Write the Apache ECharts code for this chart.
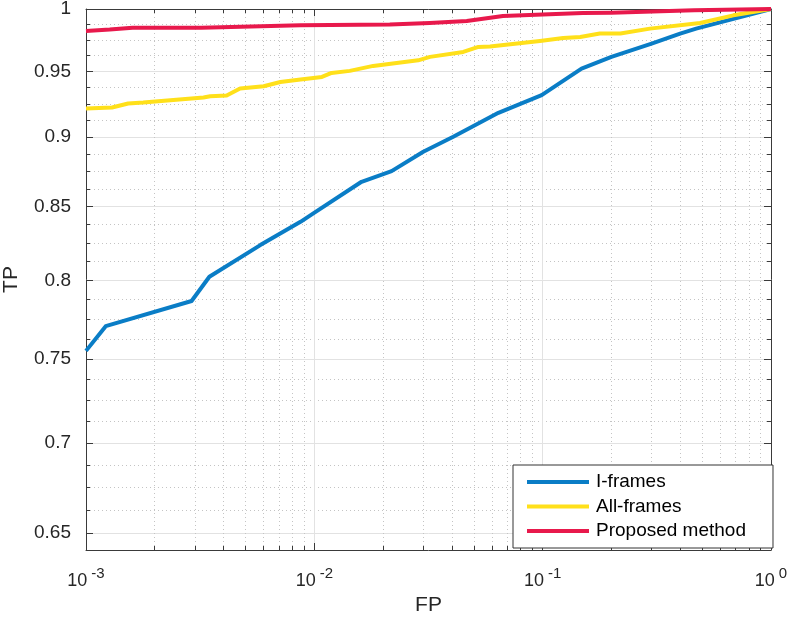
<!DOCTYPE html>
<html><head><meta charset="utf-8">
<script src="https://cdn.jsdelivr.net/npm/echarts@6/dist/echarts.min.js"></script>
<style>html,body{margin:0;padding:0;background:#fff}#c{width:790px;height:617px}</style>
</head><body><div id="c"></div>
<script>
// ---- data ----
const seriesNames = ['I-frames', 'All-frames', 'Proposed method'];

const iFramesFP = [0.001, 0.00122, 0.0029, 0.00347, 0.0058, 0.0087, 0.0099, 0.0161, 0.0218, 0.030, 0.0406, 0.064, 0.099, 0.148, 0.20, 0.30, 0.40, 0.47, 1];
const iFramesTP = [0.755, 0.7705, 0.7866, 0.8024, 0.8236, 0.8395, 0.8453, 0.8676, 0.8752, 0.8893, 0.9003, 0.9182, 0.9316, 0.9522, 0.9614, 0.972, 0.980, 0.984, 1];

const allFramesFP = [0.001, 0.0013, 0.00153, 0.00178, 0.00327, 0.0035, 0.00413, 0.00473, 0.006, 0.0071, 0.0087, 0.0108, 0.0119, 0.0143, 0.0181, 0.0285, 0.0321, 0.0449, 0.0523, 0.0588, 0.0973, 0.123, 0.146, 0.178, 0.219, 0.295, 0.489, 0.684, 1];
const allFramesTP = [0.9215, 0.9222, 0.9253, 0.926, 0.9299, 0.9308, 0.9314, 0.9367, 0.9385, 0.9418, 0.9437, 0.9457, 0.9488, 0.9504, 0.9543, 0.9587, 0.9614, 0.9653, 0.9693, 0.9697, 0.9741, 0.9765, 0.9773, 0.980, 0.980, 0.984, 0.9886, 0.9948, 1];

const proposedFP = [0.001, 0.00127, 0.0016, 0.0032, 0.0087, 0.0214, 0.032, 0.0465, 0.067, 0.10, 0.15, 0.20, 0.46, 1];
const proposedTP = [0.982, 0.9832, 0.9848, 0.9848, 0.9867, 0.9873, 0.9886, 0.9902, 0.9943, 0.9954, 0.9967, 0.997, 0.9989, 1];

// tick values
const xTicks = [0.001, 0.01, 0.1, 1];
const xMinorTicks = [0.002, 0.003, 0.004, 0.005, 0.006, 0.007, 0.008, 0.009,
                     0.02, 0.03, 0.04, 0.05, 0.06, 0.07, 0.08, 0.09,
                     0.2, 0.3, 0.4, 0.5, 0.6, 0.7, 0.8, 0.9];
const yTicks = [0.65, 0.7, 0.75, 0.8, 0.85, 0.9, 0.95, 1];
const yMinorTicks = [0.6625, 0.675, 0.6875, 0.7125, 0.725, 0.7375, 0.7625, 0.775, 0.7875,
                     0.8125, 0.825, 0.8375, 0.8625, 0.875, 0.8875, 0.9125, 0.925, 0.9375,
                     0.9625, 0.975, 0.9875];

// ---- styling ----
const FONT = '"Liberation Sans", Arial, Helvetica, sans-serif';
const AXIS = '#3a3a3a';
const TEXT = '#262626';
const GRID = '#e2e2e2';
const MINOR = '#c4c4c4';
const COLORS = ['#0a7dc6', '#ffe01a', '#e8194c'];
const X_MIN = 0.001, X_MAX = 1, Y_MIN = 0.641, Y_MAX = 1;

function xAxisCfg(position, values, major, extra) {
  return Object.assign({
    type: 'log', logBase: 10, min: X_MIN, max: X_MAX, position: position, gridIndex: 0,
    axisLine: { show: false, onZero: false },
    axisTick: { show: true, inside: true, length: major ? 7 : 4, customValues: values, lineStyle: { color: AXIS, width: 1 } },
    axisLabel: { show: false },
    splitLine: { show: false },
    minorTick: { show: false }, minorSplitLine: { show: false }
  }, extra || {});
}
function yAxisCfg(position, values, major, extra) {
  return Object.assign({
    type: 'log', logBase: 10, min: Y_MIN, max: Y_MAX, position: position, gridIndex: 0,
    axisLine: { show: false, onZero: false },
    axisTick: { show: true, inside: true, length: major ? 7 : 4, customValues: values, lineStyle: { color: AXIS, width: 1 } },
    axisLabel: { show: false },
    splitLine: { show: false },
    minorTick: { show: false }, minorSplitLine: { show: false }
  }, extra || {});
}

const chart = echarts.init(document.getElementById('c'), null, { renderer: 'canvas' });

const option = {
  animation: false,
  backgroundColor: '#ffffff',
  textStyle: { fontFamily: FONT },
  grid: { left: 86, right: 19, top: 9, bottom: 67, containLabel: false, outerBoundsMode: 'none' },
  xAxis: [
    xAxisCfg('bottom', xTicks, true, {
      axisLine: { show: true, onZero: false, lineStyle: { color: AXIS, width: 1 } },
      axisLabel: {
        show: true, customValues: xTicks, margin: 16, showMinLabel: true, showMaxLabel: true,
        formatter: function (v) {
          const e = Math.round(Math.log10(v));
          return '{b|10}{s|' + e + '}';
        },
        rich: {
          b: { fontSize: 18, lineHeight: 24, verticalAlign: 'bottom', fontFamily: FONT, color: TEXT },
          s: { fontSize: 15, lineHeight: 12, verticalAlign: 'top', padding: [0, 0, 0, 4], fontFamily: FONT, color: TEXT }
        }
      },
      splitLine: { show: true, lineStyle: { color: GRID, width: 1 } },
      name: 'FP', nameLocation: 'middle', nameGap: 42,
      nameTextStyle: { fontSize: 21, color: TEXT, fontFamily: FONT }
    }),
    xAxisCfg('bottom', xMinorTicks, false, {
      splitLine: { show: true, lineStyle: { color: MINOR, width: 1, type: [1, 3] } }
    }),
    xAxisCfg('top', xTicks, true, {
      axisLine: { show: true, onZero: false, lineStyle: { color: AXIS, width: 1 } }
    }),
    xAxisCfg('top', xMinorTicks, false)
  ],
  yAxis: [
    yAxisCfg('left', yTicks, true, {
      axisLine: { show: true, onZero: false, lineStyle: { color: AXIS, width: 1 } },
      axisLabel: {
        show: true, customValues: yTicks, margin: 15, showMinLabel: true, showMaxLabel: true,
        fontSize: 19, color: TEXT, fontFamily: FONT,
        formatter: function (v) { return String(Math.round(v * 100) / 100); }
      },
      splitLine: { show: true, lineStyle: { color: GRID, width: 1 } },
      name: 'TP', nameLocation: 'middle', nameGap: 64,
      nameTextStyle: { fontSize: 21, color: TEXT, fontFamily: FONT }
    }),
    yAxisCfg('left', yMinorTicks, false, {
      splitLine: { show: true, lineStyle: { color: MINOR, width: 1, type: [1, 3] } }
    }),
    yAxisCfg('right', yTicks, true, {
      axisLine: { show: true, onZero: false, lineStyle: { color: AXIS, width: 1 } }
    }),
    yAxisCfg('right', yMinorTicks, false)
  ],
  legend: {
    show: true, orient: 'vertical', left: 513, top: 465,
    padding: [7, 27, 7, 14], itemGap: 4.5, itemWidth: 62, itemHeight: 4, icon: 'rect',
    backgroundColor: '#ffffff', borderColor: '#333333', borderWidth: 1, borderRadius: 0,
    textStyle: { fontSize: 19, lineHeight: 20, color: '#000000', fontFamily: FONT, padding: [0, 0, 0, 2] },
    data: seriesNames
  },
  series: [
    { name: seriesNames[0], fp: iFramesFP, tp: iFramesTP, color: COLORS[0] },
    { name: seriesNames[1], fp: allFramesFP, tp: allFramesTP, color: COLORS[1] },
    { name: seriesNames[2], fp: proposedFP, tp: proposedTP, color: COLORS[2] }
  ].map(function (s) {
    return {
      name: s.name, type: 'line', xAxisIndex: 0, yAxisIndex: 0,
      data: s.fp.map(function (x, i) { return [x, s.tp[i]]; }),
      showSymbol: false, symbol: 'none', clip: true,
      color: s.color,
      itemStyle: { color: s.color },
      lineStyle: { color: s.color, width: 4, join: 'round', cap: 'butt' },
      emphasis: { disabled: true }
    };
  })
};
chart.setOption(option);
</script>
</body></html>
